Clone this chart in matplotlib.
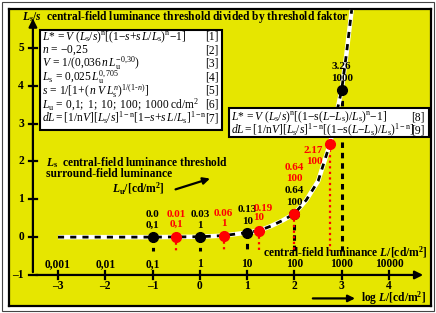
import matplotlib
matplotlib.use("Agg")
import matplotlib.pyplot as plt
from matplotlib.patches import Rectangle

plt.rcParams["font.family"] = ["Liberation Serif", "DejaVu Serif"]
plt.rcParams["mathtext.fontset"] = "custom"
plt.rcParams["mathtext.rm"] = "Liberation Serif"
plt.rcParams["mathtext.it"] = "Liberation Serif:italic"
plt.rcParams["mathtext.bf"] = "Liberation Serif:bold"
plt.rcParams["mathtext.bfit"] = "Liberation Serif:italic:bold"

# ── data ──
curve_x = [-3, -1, 0, 0.5, 1, 1.25, 1.5, 1.75, 2, 2.25, 2.5, 2.75, 3, 3.1, 3.21]
curve_y = [0, 0, 0.01, 0.04, 0.12, 0.17, 0.29, 0.44, 0.62, 0.98, 1.48, 2.46, 3.9, 4.85, 6.0]

black_x = [-1, 0, 1, 2, 3]
black_y = [0, 0, 0.12, 0.62, 3.9]
black_val = ["0.0", "0.03", "0.13", "0.64", "3.26"]
black_lu = ["0,1", "1", "10", "100", "1000"]

red_x = [-0.5, 0.5, 1.25, 2, 2.75]
red_y = [0, 0.03, 0.16, 0.62, 2.46]
red_val = ["0.01", "0.06", "0.19", "0.64", "2.17"]
red_lu = ["0,1", "1", "10", "100", "100"]

xticks = [-3, -2, -1, 0, 1, 2, 3, 4]
xtick_top = ["0,001", "0,01", "0,1", "1", "10", "100", "1000", "10000"]
yticks = [-1, 0, 1, 2, 3, 4, 5]

eq_left = [
    r"$L{*}\,{=}V\ (L_{\rm s}/s)^{\rm n}[(1{-}s{+}s\,L/L_{\rm s})^{\rm n}{-}1]$",
    r"$n\,=\,{-}0{,}25$",
    r"$V\,=\,1/(0{,}036\,n\,L_{\rm u}^{-0{,}30})$",
    r"$L_{\rm s}\,=\,0{,}025\,L_{\rm u}^{0{,}705}$",
    r"$s\,=\,1/[1{+}(\,n\ V\,L_{\rm s}^{n})^{1/(1\text{-}n)}]$",
    r"$L_{\rm u}\,=\,\mathrm{0{,}1;\ 1;\ 10;\ 100;\ 1000\ cd/m^2}$",
    r"$dL{=}[1/{\rm n}V][L_{\rm s}/s]^{1-{\rm n}}[1{-}s{+}s\,L/L_{\rm s}]^{1-{\rm n}}$",
]
eq_right = [
    r"$L{*}\,{=}V\ (L_{\rm s}/s)^{\rm n}[(1{-}{\rm s}(L{-}L_{\rm s})/L_{\rm s})^{\rm n}{-}1]$",
    r"$dL{=}[1/{\rm n}V][L_{\rm s}/s]^{1-{\rm n}}[(1{-}{\rm s}(L{-}L_{\rm s})/L_{\rm s})^{1-{\rm n}}]$",
]

YEL = "#e6e600"
RED = "#ff0000"
FS = 8.3
PFS = 8.0

fig = plt.figure(figsize=(4.36, 3.13), dpi=100)
fig.patch.set_facecolor("white")
fig.add_artist(Rectangle((0.005, 0.006), 0.99, 0.988, transform=fig.transFigure,
                         fill=False, ec="#444444", lw=0.8))
ax = fig.add_axes([0.0206, 0.0224, 0.968, 0.949])
ax.set_facecolor(YEL)
ax.set_xlim(-4.036, 4.888)
ax.set_ylim(-1.82, 6.03)
ax.set_xticks([])
ax.set_yticks([])
for sp in ax.spines.values():
    sp.set_linewidth(1.6)

# axes with arrows
ax.annotate("", xy=(4.78, -1), xytext=(-3.53, -1),
            arrowprops=dict(arrowstyle="-|>", lw=1.6, color="black", mutation_scale=12))
ax.annotate("", xy=(-3.53, 5.85), xytext=(-3.53, -1),
            arrowprops=dict(arrowstyle="-|>", lw=1.6, color="black", mutation_scale=12))
for xt, lab in zip(xticks, xtick_top):
    ax.plot([xt, xt], [-1.1, -0.9], color="black", lw=1.6)
    ax.text(xt, -0.71, lab, ha="center", va="center", fontsize=FS, fontweight="bold")
    ax.text(xt, -1.30, str(xt).replace("-", "\u2013"), ha="center", va="center",
            fontsize=FS, fontweight="bold")
for yt in yticks:
    ax.plot([-3.62, -3.44], [yt, yt], color="black", lw=1.6)
    ax.text(-3.72, yt, str(yt).replace("-", "\u2013"), ha="right", va="center",
            fontsize=FS, fontweight="bold")

# curve: white with black dashes
ax.plot(curve_x, curve_y, color="white", lw=3.2, solid_capstyle="butt", zorder=3)
ax.plot(curve_x, curve_y, color="black", lw=2.0, dashes=(2.2, 2.2), zorder=4)

# vertical drop lines
for x, y in zip(black_x, black_y):
    ax.plot([x, x], [y, -0.36], color="black", lw=2.2, dashes=(1.8, 1.6), zorder=2)
for x, y in zip(red_x, red_y):
    ax.plot([x, x], [y, -0.36], color=RED, lw=1.6, dashes=(1.0, 1.5), zorder=2)

ax.plot(black_x, black_y, "o", color="black", ms=7, zorder=5)
ax.plot(red_x, red_y, "o", color=RED, ms=7, zorder=6)

# point labels
for i, (x, y) in enumerate(zip(black_x, black_y)):
    ax.annotate(black_val[i], (x, y), xytext=(0, 16.5), textcoords="offset points",
                ha="center", va="center", fontsize=PFS, fontweight="bold", color="black")
    ax.annotate(black_lu[i], (x, y), xytext=(0, 8.3), textcoords="offset points",
                ha="center", va="center", fontsize=PFS, fontweight="bold", color="black")
for i, (x, y) in enumerate(zip(red_x, red_y)):
    if i == 3:
        dx1, dx2, dy1, dy2, ha = 0, 0, 33, 25.5, "center"
    elif i == 4:
        dx1, dx2, dy1, dy2, ha = -5, -5, -4.5, -12.5, "right"
    elif i == 2:
        dx1, dx2, dy1, dy2, ha = 3, 0, 16.5, 10, "center"
    else:
        dx1, dx2, dy1, dy2, ha = 0, 0, 16.5, 9, "center"
    ax.annotate(red_val[i], (x, y), xytext=(dx1, dy1), textcoords="offset points",
                ha=ha, va="center", fontsize=PFS, fontweight="bold", color=RED)
    ax.annotate(red_lu[i], (x, y), xytext=(dx2, dy2), textcoords="offset points",
                ha=ha, va="center", fontsize=PFS, fontweight="bold", color=RED)

# title-like label
ax.text(-3.76, 5.82,
        r"$\boldsymbol{L}_{\mathbf{s}}\mathbf{/}\boldsymbol{s}$  central-field luminance threshold divided by threshold faktor",
        ha="left", va="center", fontsize=FS, fontweight="bold")

# formula box left
ax.add_patch(Rectangle((-3.38, 2.83), 3.845, 2.65, fc="white", ec="black", lw=1.5, zorder=7))
for i, eq in enumerate(eq_left):
    yy = 5.29 - i * 0.357
    ax.text(-3.33, yy, eq, ha="left", va="center", fontsize=8.3, zorder=8)
    ax.text(0.40, yy, f"[{i + 1}]", ha="right", va="center", fontsize=8.3, zorder=8)

# formula box right
ax.add_patch(Rectangle((0.613, 2.65), 4.227, 0.76, fc="white", ec="black", lw=1.5, zorder=7))
for i, eq in enumerate(eq_right):
    yy = 3.17 - i * 0.34
    ax.text(0.66, yy, eq, ha="left", va="center", fontsize=8.3, zorder=8)
    ax.text(4.76, yy, f"[{i + 8}]", ha="right", va="center", fontsize=8.3, zorder=8)

# other labels
ax.text(-3.26, 1.96, r"$\boldsymbol{L}_{\mathbf{s}}$  central-field luminance threshold",
        ha="left", va="center", fontsize=FS, fontweight="bold")
ax.text(-3.26, 1.66, "surround-field luminance", ha="left", va="center",
        fontsize=FS, fontweight="bold")
ax.text(-1.86, 1.28, r"$\boldsymbol{L}_{\mathbf{u}}$/[cd/m$^\mathbf{2}$]", ha="left", va="center",
        fontsize=FS, fontweight="bold")
ax.annotate("", xy=(0.27, 1.57), xytext=(-0.57, 1.24),
            arrowprops=dict(arrowstyle="-|>", lw=1.6, color="black", mutation_scale=10))
ax.text(1.33, -0.40, r"central-field luminance $\boldsymbol{L}$/[cd/m$^\mathbf{2}$]",
        ha="left", va="center", fontsize=FS, fontweight="bold")
ax.text(3.40, -1.62, r"log $\boldsymbol{L}$/[cd/m$^\mathbf{2}$]", ha="left", va="center",
        fontsize=FS, fontweight="bold")
ax.annotate("", xy=(3.34, -1.62), xytext=(2.33, -1.62),
            arrowprops=dict(arrowstyle="-|>", lw=1.6, color="black", mutation_scale=10))

fig.savefig("out.png", dpi=100)
